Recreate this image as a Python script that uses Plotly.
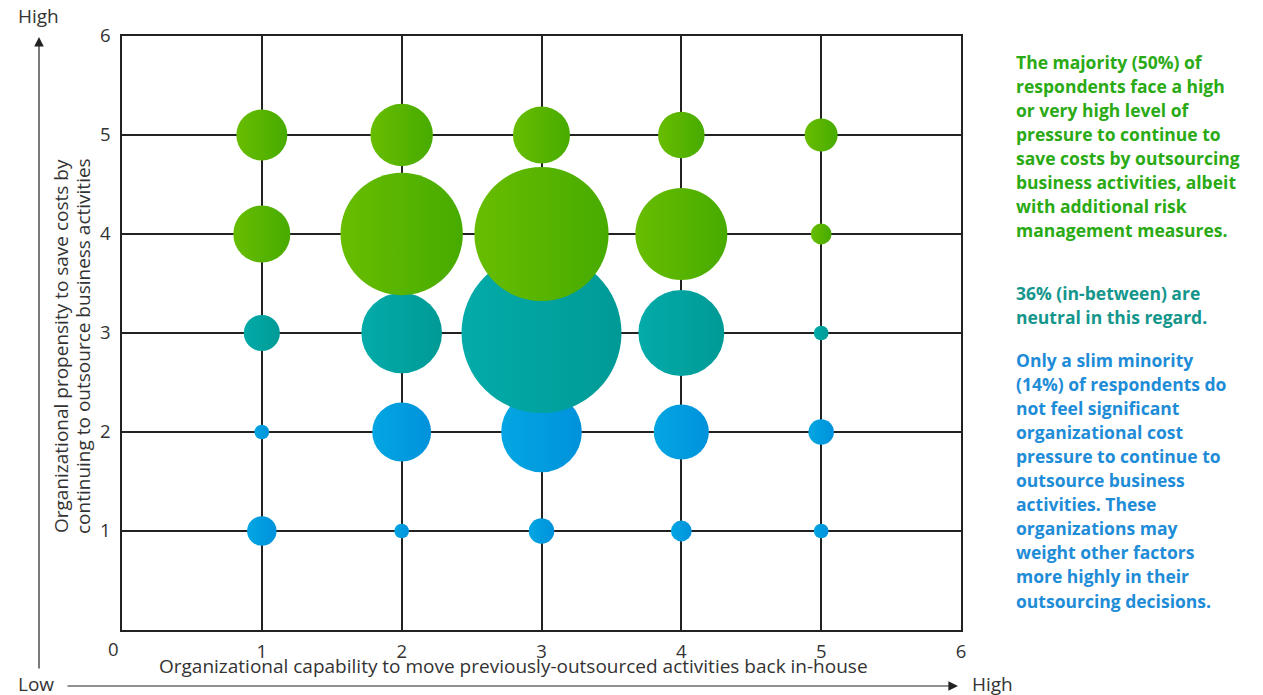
import plotly.graph_objects as go

# Score levels on both axes
scores = [1, 2, 3, 4, 5]

# Number of respondents at each (capability, propensity) combination, one list per propensity level
row_5 = [12, 18, 15, 10, 5]
row_4 = [15, 69, 83, 39, 2]
row_3 = [6, 30, 118, 34, 1]
row_2 = [1, 16, 30, 14, 3]
row_1 = [4, 1, 3, 2, 1]

x_title = "Organizational capability to move previously-outsourced activities back in-house"
y_title_lines = [
    "Organizational propensity to save costs by",
    "continuing to outsource business activities",
]

green_lines = [
    "The majority (50%) of",
    "respondents face a high",
    "or very high level of",
    "pressure to continue to",
    "save costs by outsourcing",
    "business activities, albeit",
    "with additional risk",
    "management measures.",
]
teal_lines = [
    "36% (in-between) are",
    "neutral in this regard.",
]
blue_lines = [
    "Only a slim minority",
    "(14%) of respondents do",
    "not feel significant",
    "organizational cost",
    "pressure to continue to",
    "outsource business",
    "activities. These",
    "organizations may",
    "weight other factors",
    "more highly in their",
    "outsourcing decisions.",
]

W, H = 1263, 695
L, R, T, B = 122, 302, 36, 65
PW, PH = W - L - R, H - T - B


def px(x):
    return (x - L) / PW


def py(y):
    return (H - B - y) / PH


FONT = "Open Sans"
INK = "#333333"
AX_SIZE = 18.5
MAX_PX = 160
sizeref = 2.0 * max(row_3) / MAX_PX ** 2

groups = [
    # (rows, left colour, right colour)
    ([(2, row_2), (1, row_1)], "#03a6e2", "#0092dc"),
    ([(3, row_3)], "#03aba9", "#009a96"),
    ([(5, row_5), (4, row_4)], "#68bd00", "#47ab00"),
]

fig = go.Figure()
for rows, c_left, c_right in groups:
    xs, ys, ss = [], [], []
    for level, vals in rows:
        for s, v in zip(scores, vals):
            xs.append(s)
            ys.append(level)
            ss.append(v)
    fig.add_trace(go.Scatter(
        x=xs, y=ys, mode="markers",
        marker=dict(
            size=ss, sizemode="area", sizeref=sizeref,
            color=c_left,
            gradient=dict(type="horizontal", color=c_right),
            line=dict(width=0), opacity=1,
        ),
        hoverinfo="skip", showlegend=False, cliponaxis=False,
    ))

axis_common = dict(
    range=[0, 6], showgrid=True, gridcolor="#222222", gridwidth=1.5,
    zeroline=False, showline=True, linecolor="#222222", linewidth=1.5,
    mirror=True, ticks="", tickfont=dict(family=FONT, size=AX_SIZE, color=INK),
    fixedrange=True,
)
fig.update_xaxes(**axis_common, tickvals=[1, 2, 3, 4, 5, 6], ticklabelstandoff=4)
fig.update_yaxes(**axis_common, tickvals=[1, 2, 3, 4, 5, 6], ticklabelstandoff=6)


def label(x, y, text, size=AX_SIZE, angle=0, color=INK, xanchor="center"):
    return dict(x=px(x), y=py(y), xref="paper", yref="paper", text=text,
                showarrow=False, textangle=angle, xanchor=xanchor, yanchor="middle",
                font=dict(family=FONT, size=size, color=color))


ann = []
# shared origin label
ann.append(label(113, 648, "0"))
# axis titles
ann.append(label(513, 666, x_title, size=19))
for cx, line in zip([61, 83], y_title_lines):
    ann.append(label(cx, 346, line, size=19, angle=-90))
# low / high direction arrows
ann.append(dict(x=px(39), y=py(37), xref="paper", yref="paper", ax=0, ay=633,
                text="", showarrow=True, arrowhead=2, arrowsize=1.6,
                arrowwidth=1.2, arrowcolor="#222222", standoff=0))
ann.append(dict(x=px(958), y=py(686), xref="paper", yref="paper", ax=-892, ay=0,
                text="", showarrow=True, arrowhead=2, arrowsize=1.6,
                arrowwidth=1.2, arrowcolor="#222222", standoff=0))
ann.append(label(38, 16, "High", size=19))
ann.append(label(36, 684, "Low", size=19))
ann.append(label(992, 684, "High", size=19))

# commentary blocks on the right
LINE = 24.05
for lines, top, color in [
    (green_lines, 62, "#2aaa14"),
    (teal_lines, 293, "#14968c"),
    (blue_lines, 360, "#1e8cd7"),
]:
    for i, line in enumerate(lines):
        ann.append(label(1014, top + i * LINE, "<b>" + line + "</b>", size=17.5,
                         color=color, xanchor="left"))

fig.update_layout(
    width=W, height=H,
    margin=dict(l=L, r=R, t=T, b=B),
    paper_bgcolor="white", plot_bgcolor="white",
    annotations=ann,
    showlegend=False,
)

fig.write_html("out.html", config={"displayModeBar": False})
